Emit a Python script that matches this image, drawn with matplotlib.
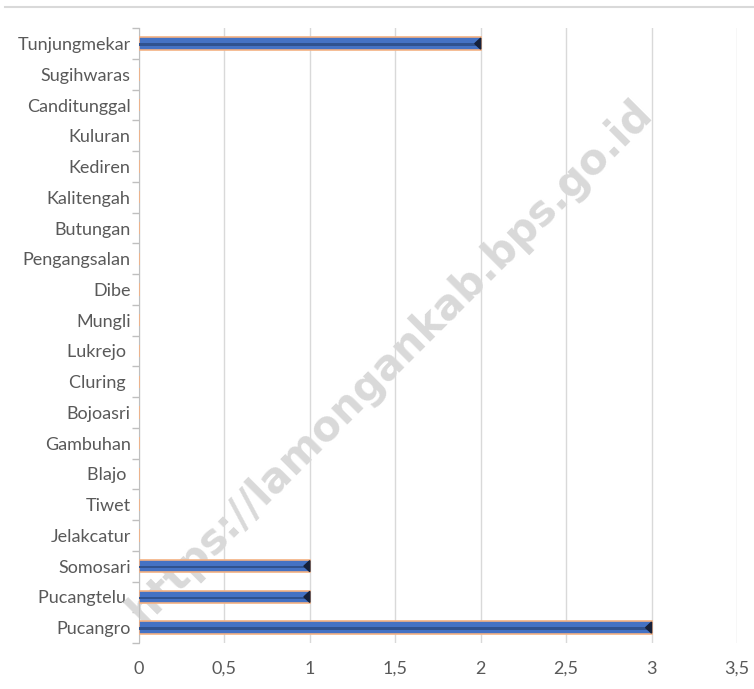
import matplotlib
matplotlib.use("Agg")
import matplotlib.pyplot as plt
import numpy as np
from matplotlib.lines import Line2D

# Data (top to bottom as in the chart)
desa = ["Tunjungmekar", "Sugihwaras", "Canditunggal", "Kuluran", "Kediren",
        "Kalitengah", "Butungan", "Pengangsalan", "Dibe", "Mungli",
        "Lukrejo ", "Cluring ", "Bojoasri", "Gambuhan", "Blajo ",
        "Tiwet", "Jelakcatur", "Somosari", "Pucangtelu ", "Pucangro"]
nilai = [2, 0, 0, 0, 0, 0, 0, 0, 0, 0, 0, 0, 0, 0, 0, 0, 0, 1, 1, 3]
xticks = [0, 0.5, 1, 1.5, 2, 2.5, 3, 3.5]
xtick_labels = ["0", "0,5", "1", "1,5", "2", "2,5", "3", "3,5"]

plt.rcParams['font.family'] = ['Lato', 'DejaVu Sans']

fig = plt.figure(figsize=(7.54, 6.89), dpi=100)
ax = fig.add_axes([0.1844, 0.0668, 0.7931, 0.8922])

y = np.arange(len(desa))[::-1]
vals = np.array(nilai)
ax.barh(y, vals, height=0.40, color="#4472c4", edgecolor="#f4b183", linewidth=1.2, zorder=3)
ax.barh(y - 0.03, vals, height=0.07, color="#2f528f", linewidth=0, zorder=4)
# dark end caps
for yi, v in zip(y, vals):
    if v > 0:
        ax.fill([v, v - 0.035, v], [yi - 0.18, yi, yi + 0.18], color="#16213a", zorder=5)

ax.set_xlim(0, 3.5)
ax.set_ylim(-0.5, len(desa) - 0.5)
ax.set_xticks(xticks)
ax.set_xticklabels(xtick_labels, color="#595959", fontsize=13)
ax.set_yticks(y)
ax.set_yticklabels(desa, color="#595959", fontsize=13)
ax.tick_params(axis="y", length=0, pad=6)
ax.tick_params(axis="x", length=0, pad=13)
ax.set_yticks(np.arange(-0.5, len(desa), 1), minor=True)
ax.tick_params(axis="y", which="minor", length=5, color="#bfbfbf", width=1)
ax.grid(axis="x", color="#d9d9d9", linewidth=1, zorder=0)
ax.set_axisbelow(True)
for s in ["top", "right", "bottom"]:
    ax.spines[s].set_visible(False)
ax.spines["left"].set_color("#bfbfbf")

# watermark (behind bars and labels)
ax.text(0.517, 0.475, "https://lamongankab.bps.go.id", fontsize=30, fontweight="bold",
        color="#d9d9d9", rotation=45, ha="center", va="center",
        family="DejaVu Sans", transform=fig.transFigure, zorder=1, clip_on=False)

# top line
fig.add_artist(Line2D([0.007, 1.0], [0.99, 0.99], color="#d9d9d9", linewidth=1.5))

fig.savefig("out.png", dpi=100)
